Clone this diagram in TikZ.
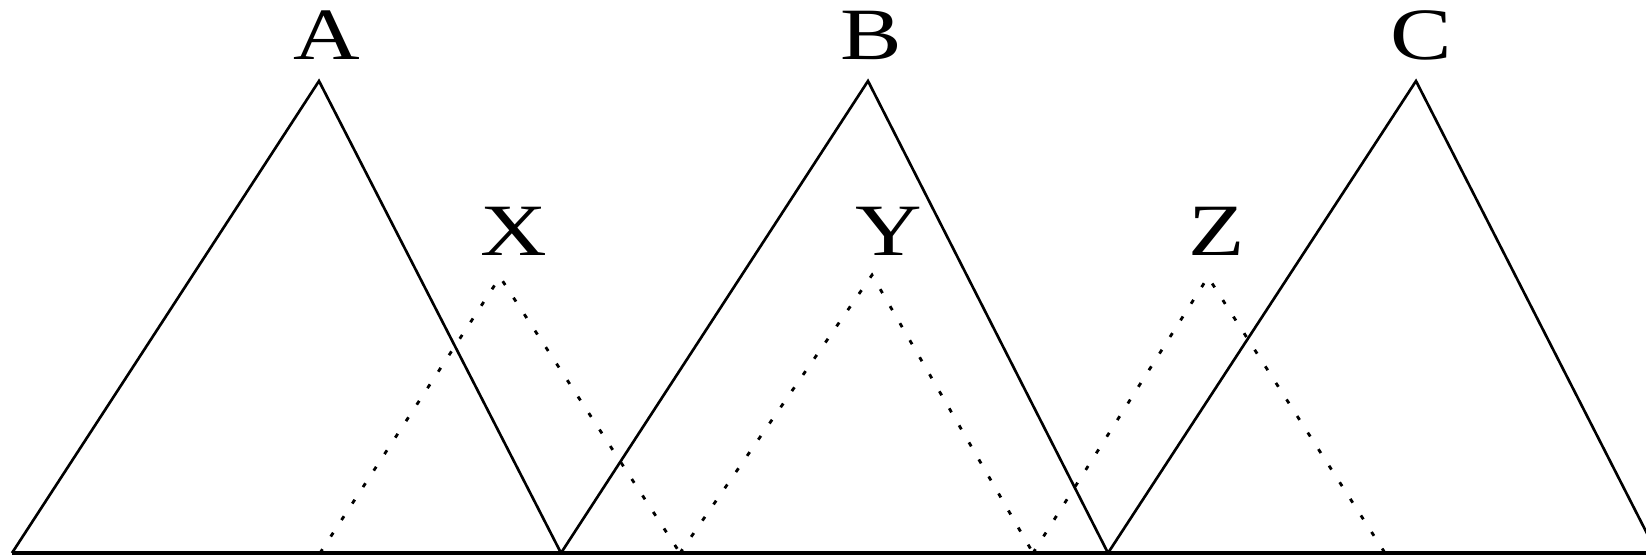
\documentclass[tikz,border=0pt]{standalone}
\usepackage{fontspec}
\usepackage{graphicx}
\setmainfont{Liberation Serif}
\tikzset{
  solidline/.style={line width=1.5pt, line join=miter},
  dotline/.style={line width=1.6pt, dash pattern=on 2.6pt off 8.6pt},
  baseline/.style={line width=1.9pt},
  lbl/.style={inner sep=0pt, anchor=base, font=\fontsize{42}{42}\selectfont}
}
\newcommand{\wide}[1]{\scalebox{1.25}[1]{#1}}
\begin{document}
\begin{tikzpicture}[x=0.02cm,y=-0.02cm]
\useasboundingbox (0,0) rectangle (1646,555);
\clip (0,0) rectangle (1646,555);
% base points
\coordinate (a0) at (12,553);
\coordinate (ab) at (561,553);
\coordinate (bc) at (1108,553);
\coordinate (cR) at (1657,553);
\coordinate (eR) at (1650,553);
\coordinate (x0) at (320,553);
\coordinate (xy) at (680,553);
\coordinate (yz) at (1033,553);
\coordinate (zR) at (1385,553);
% apexes
\coordinate (aT) at (319,81);
\coordinate (bT) at (868,81);
\coordinate (cT) at (1416,81);
\coordinate (xT) at (500,277);
\coordinate (yT) at (872,275);
\coordinate (zT) at (1208,277);
% labels
\node[lbl] (A) at (327,59.5) {\wide{A}};
\node[lbl] (B) at (871,59.5) {\wide{B}};
\node[lbl] (C) at (1421,59.5) {\wide{C}};
\node[lbl] (X) at (514,255) {\wide{X}};
\node[lbl] (Y) at (889,255) {\wide{Y}};
\node[lbl] (Z) at (1217,255) {\wide{Z}};
% solid triangles
\draw[solidline] (a0) -- (aT) -- (ab);
\draw[solidline] (ab) -- (bT) -- (bc);
\draw[solidline] (bc) -- (cT) -- (cR);
% dotted triangles
\draw[dotline] (x0) -- (xT) -- (xy);
\draw[dotline] (xy) -- (yT) -- (yz);
\draw[dotline] (yz) -- (zT) -- (zR);
% baseline
\draw[baseline] (a0) -- (eR);
\end{tikzpicture}
\end{document}
